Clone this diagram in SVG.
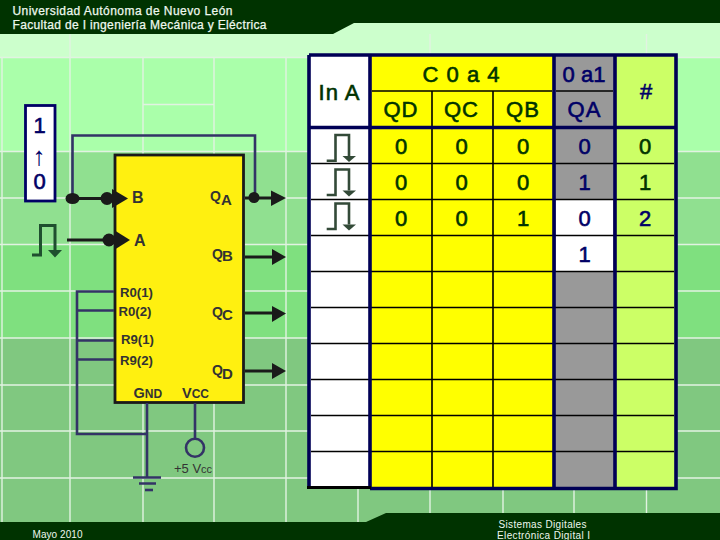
<svg xmlns="http://www.w3.org/2000/svg" width="720" height="540" viewBox="0 0 720 540">
<style>
text{font-family:"Liberation Sans",Arial,sans-serif}
.grid{stroke:#e2f2e2;stroke-width:1.4;fill:none}
.w{stroke:#333366;stroke-width:2.6;fill:none}
.k{stroke:#1a1a1a;stroke-width:3;fill:none}
.h{fill:#1a1a1a}
.p{stroke:#334a38;stroke-width:2.6;fill:none}
.pa{fill:#334a38}
.nv{stroke:#000055;fill:none;stroke-width:3.6}
.bl{stroke:#000;fill:none;stroke-width:1.6}
.c{font-size:22px;text-anchor:middle;fill:#003300;stroke:#003300;stroke-width:.6}
.n{font-size:22px;text-anchor:middle;fill:#000066;stroke:#000066;stroke-width:.6}
.hd{font-size:12px;fill:#eef8ee;stroke:#eef8ee;stroke-width:.25}
.ft{font-size:10px;fill:#eef8ee}
.l{font-weight:700;fill:#333333}
</style>
<g id="background">
<rect width="720" height="540" fill="#ccffcc"/>
<rect y="57" width="720" height="95" fill="#aaffaa"/>
<rect y="152" width="720" height="93" fill="#90e090"/>
<rect y="245" width="720" height="93" fill="#7fe07f"/>
<rect y="338" width="720" height="190" fill="#80c880"/>
<path class="grid" d="M0 57.500H720M143 104.500H214M0 151.500H720M0 198H720M0 244.500H720M0 291H720M0 338H720M0 385H720M0 431H720M0 478H720"/>
<path class="grid" d="M2 57V522M70 34V522M143 57V522M214 57V522M286 57V522M358 57V522M430 34V522M503 57V522M574 57V522M646.500 34V522"/>
<path fill="#003300" d="M0 0H720V23H354L333 34H0Z"/>
<path fill="#003300" d="M0 522H366L386 513H720V540H0Z"/>
</g>
<g id="header">
<text class="hd" x="12.500" y="15" textLength="220" lengthAdjust="spacing">Universidad Autónoma de Nuevo León</text>
<text class="hd" x="12.500" y="29" textLength="254" lengthAdjust="spacing">Facultad de I ingeniería Mecánica y Eléctrica</text>
</g>
<g id="footer">
<text class="ft" x="32.500" y="538" textLength="50">Mayo 2010</text>
<text class="ft" x="498.500" y="527.700" textLength="88">Sistemas Digitales</text>
<text class="ft" x="497" y="539.300" textLength="93">Electrónica Digital I</text>
</g>
<g id="counter-chip">
<rect x="115" y="155" width="128.500" height="247.500" fill="#fff010" stroke="#1a1a1a" stroke-width="2.800"/>
<text class="l" x="132" y="203" font-size="16">B</text>
<text class="l" x="134" y="246" font-size="16">A</text>
<text class="l" x="210" y="201" font-size="14">Q</text><text class="l" x="221" y="204.500" font-size="15">A</text>
<text class="l" x="212" y="259" font-size="14">Q</text><text class="l" x="222" y="261" font-size="15">B</text>
<text class="l" x="212" y="317" font-size="14">Q</text><text class="l" x="222" y="319.500" font-size="15">C</text>
<text class="l" x="212" y="375" font-size="14">Q</text><text class="l" x="222" y="379" font-size="15">D</text>
<text class="l" x="120" y="296.700" font-size="13.200">R0(1)</text>
<text class="l" x="118.500" y="316" font-size="13.200">R0(2)</text>
<text class="l" x="121" y="344" font-size="13.200">R9(1)</text>
<text class="l" x="120" y="365" font-size="13.200">R9(2)</text>
<text class="l" x="133.500" y="397.500" font-size="14.500">G<tspan font-size="12">ND</tspan></text>
<text class="l" x="182" y="397.500" font-size="14.500">V<tspan font-size="12">CC</tspan></text>
</g>
<g id="connectors">
<path class="w" d="M72.500 197V135.500H255V197"/>
<path class="w" d="M114 291.500H77V434H147M77 310.500H114M77 340.500H114M77 359.500H114"/>
<path class="w" d="M147 403V477M195 403V438"/>
<path class="w" stroke-width="2" d="M133 477.500H161M139 483.500H156"/>
<path class="w" d="M145 490H153"/>
<circle class="w" cx="195" cy="447.700" r="9"/>
<path class="k" d="M66 198.500H115M67 240H115M245 198H273M245 257H273M245 313H273M245 371H273"/>
<g class="h">
<ellipse cx="72.500" cy="198.500" rx="7" ry="5.500"/>
<ellipse cx="107" cy="198.500" rx="6.500" ry="6.500"/>
<path d="M112 189L128 198.500L112 208Z"/>
<ellipse cx="109" cy="240" rx="6.500" ry="6.500"/>
<path d="M114 230L130 240L114 250Z"/>
<ellipse cx="254" cy="197.500" rx="5.500" ry="5.500"/>
<path d="M271 190.500L286 198L271 206Z"/>
<path d="M272 249L286 257L272 265Z"/>
<path d="M272 306L286 313.500L272 322Z"/>
<path d="M272 363L286 371L272 379Z"/>
</g>
</g>
<g id="vcc-label">
<text x="174" y="472.600" font-size="13" fill="#333333">+5 V<tspan font-size="11">cc</tspan></text>
</g>
<g id="preset-box">
<rect x="25.500" y="105.500" width="29.500" height="95.500" fill="#fff" stroke="#000066" stroke-width="2.800"/>
<text class="n" x="39.500" y="133">1</text>
<text x="39" y="164.500" font-size="26" text-anchor="middle" fill="#000066">↑</text>
<text class="n" x="39.500" y="189">0</text>
</g>
<g id="clock-pulse">
<path stroke="#1f4f2f" stroke-width="3" fill="none" d="M32 255H40.500V225.500H55V250"/>
<path fill="#1f4f2f" d="M48 250H62L55 257.500Z"/>
</g>
<g id="truth-table">
<rect x="309" y="55" width="60" height="432" fill="#fff"/>
<rect x="370" y="55" width="184" height="433" fill="#ffff00"/>
<rect x="554" y="55" width="61" height="433" fill="#999999"/>
<rect x="556" y="199.500" width="57" height="72" fill="#fff"/>
<rect x="615" y="55" width="61" height="433" fill="#ccff66"/>
<path class="bl" d="M372 91H552M556 91H613"/>
<path class="bl" d="M432 91V488M493 91V488"/>
<path class="bl" d="M311 163.500H674M311 199.500H674M311 235.500H674M311 271.500H674M311 307.500H674M311 343.500H674M311 379.500H674M311 415.500H674M311 451.500H674"/>
<path class="nv" d="M309 55H676V488.500H370M309 55V487.500M370 55V488.500M554 55V488.500M615 55V488.500M309 127.500H676"/>
<path stroke="#000" stroke-width="3" fill="none" d="M307 487.500H371"/>
<text class="c" x="339.500" y="99.500" letter-spacing="1">In A</text>
<text class="c" x="461.500" y="81.500" letter-spacing="1">C 0 a 4</text>
<text class="n" x="584" y="81.500">0 a1</text>
<text class="n" x="646" y="99">#</text>
<text class="c" x="401" y="117" letter-spacing="1">QD</text>
<text class="c" x="461.500" y="117" letter-spacing="1">QC</text>
<text class="c" x="523" y="117" letter-spacing="1">QB</text>
<text class="n" x="584.500" y="117" letter-spacing="1">QA</text>
<g>
<text class="c" x="401" y="154">0</text><text class="c" x="461.500" y="154">0</text><text class="c" x="523" y="154">0</text><text class="n" x="584.500" y="154">0</text><text class="c" x="645" y="154">0</text>
<text class="c" x="401" y="190">0</text><text class="c" x="461.500" y="190">0</text><text class="c" x="523" y="190">0</text><text class="n" x="584.500" y="190">1</text><text class="c" x="645" y="190">1</text>
<text class="c" x="401" y="226">0</text><text class="c" x="461.500" y="226">0</text><text class="c" x="523" y="226">1</text><text class="n" x="584.500" y="226">0</text><text class="n" x="645" y="226">2</text>
<text class="n" x="584.500" y="262">1</text>
</g>
<path class="p" d="M326.700 160.700H335.500V135H349V156"/><path class="pa" d="M342.500 156H356L349 162Z"/>
<path class="p" d="M326.700 195H335.500V169.500H349V190.500"/><path class="pa" d="M342.500 190.500H356L349 196.500Z"/>
<path class="p" d="M326.700 229H335.500V203.500H349V224.500"/><path class="pa" d="M342.500 224.500H356L349 230.500Z"/>
</g>
</svg>
